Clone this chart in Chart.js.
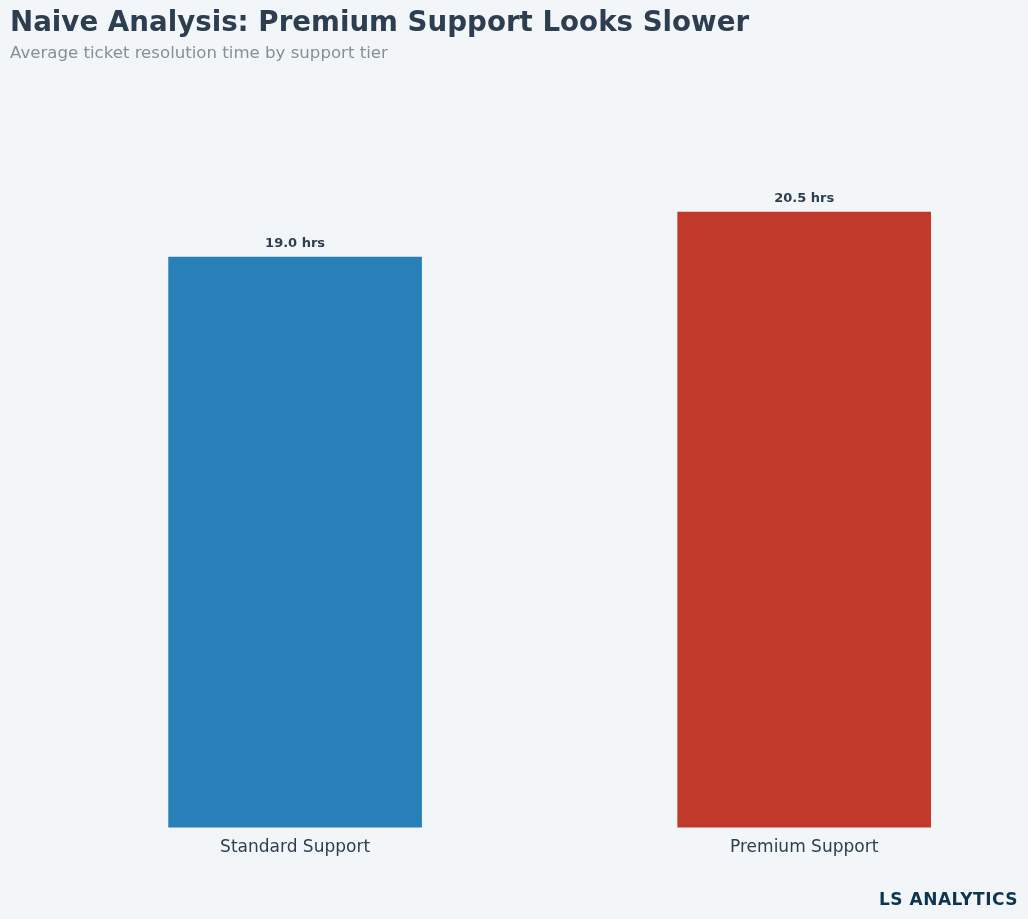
<!DOCTYPE html>
<html>
<head>
<meta charset="utf-8">
<script src="https://cdn.jsdelivr.net/npm/chart.js@4"></script>
<style>
  html, body { margin: 0; padding: 0; background: #f3f6f8; font-family: "DejaVu Sans", sans-serif; }
  #wrap { position: relative; width: 1028px; height: 919px; }
  canvas { position: absolute; left: 0; top: 0; }
  .title { position: absolute; left: 10px; top: 5px; font-size: 27.7px; font-weight: bold; color: #2c3e50; }
  .sub { position: absolute; left: 10px; top: 43px; font-size: 16.6px; color: #869094; }
  .brand { position: absolute; right: 10px; top: 889px; font-size: 17px; font-weight: bold; color: #0d3550; letter-spacing: 0.5px; }
</style>
</head>
<body>
<div id="wrap">
  <canvas id="c" width="1028" height="919"></canvas>
  <div class="title">Naive Analysis: Premium Support Looks Slower</div>
  <div class="sub">Average ticket resolution time by support tier</div>
  <div class="brand">LS ANALYTICS</div>
</div>
<script>
const categories = ['Standard Support', 'Premium Support'];
const hours = [19.0, 20.5];
const barColors = ['#2980b9', '#c0392b'];

const valueLabels = {
    id: 'valueLabels',
    afterDatasetsDraw(chart) {
        const ctx = chart.ctx;
        chart.getDatasetMeta(0).data.forEach((bar, i) => {
            ctx.save();
            ctx.font = 'bold 13px "DejaVu Sans"';
            ctx.fillStyle = '#2c3e50';
            ctx.textAlign = 'center';
            ctx.textBaseline = 'bottom';
            ctx.fillText(hours[i].toFixed(1) + ' hrs', bar.x, bar.y - 7);
            ctx.restore();
        });
    }
};

new Chart(document.getElementById('c'), {
    type: 'bar',
    data: {
        datasets: [{
            data: hours.map((v, i) => ({ x: i, y: v })),
            backgroundColor: barColors,
            barThickness: 253
        }]
    },
    options: {
        responsive: false,
        animation: false,
        layout: { padding: { left: 10, right: 10, top: 107, bottom: 59 } },
        plugins: { legend: { display: false }, tooltip: { enabled: false } },
        scales: {
            x: {
                type: 'linear',
                min: -0.56,
                max: 1.42,
                offset: false,
                bounds: 'ticks',
                grid: { display: false, offset: false },
                border: { display: false },
                ticks: {
                    stepSize: 1,
                    padding: 2,
                    color: '#2c3e50',
                    font: { size: 17, family: 'DejaVu Sans' },
                    callback: (v) => categories[v] !== undefined && Number.isInteger(v) ? categories[v] : ''
                },
                afterBuildTicks: (axis) => { axis.ticks = [{ value: 0 }, { value: 1 }]; }
            },
            y: { display: false, min: 0, max: 24 }
        }
    },
    plugins: [valueLabels]
});
</script>
</body>
</html>
